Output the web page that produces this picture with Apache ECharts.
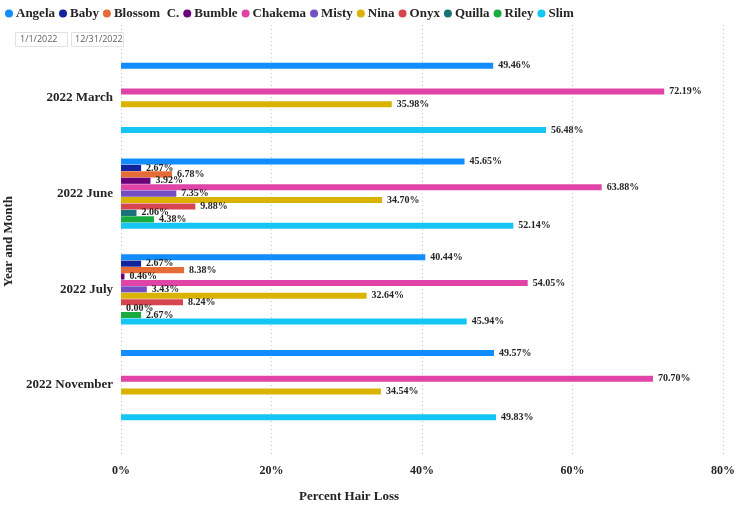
<!DOCTYPE html>
<html><head><meta charset="utf-8">
<script src="https://cdn.jsdelivr.net/npm/echarts@6/dist/echarts.min.js"></script>
<style>html,body{margin:0;padding:0;background:#fff}#c{width:740px;height:505px}</style>
</head><body><div id="c"></div>
<script>
var categories = ['2022 March', '2022 June', '2022 July', '2022 November'];
var seriesNames = ['Angela', 'Baby', 'Blossom  C.', 'Bumble', 'Chakema', 'Misty', 'Nina', 'Onyx', 'Quilla', 'Riley', 'Slim'];
var colors = ['#118DFF', '#12239E', '#E66C37', '#6B007B', '#E044A7', '#744EC2', '#D9B300', '#D64550', '#197278', '#1AAB40', '#15C6F4'];
var angela  = [49.46, 45.65, 40.44, 49.57];
var baby    = [null, 2.67, 2.67, null];
var blossom = [null, 6.78, 8.38, null];
var bumble  = [null, 3.92, 0.46, null];
var chakema = [72.19, 63.88, 54.05, 70.70];
var misty   = [null, 7.35, 3.43, null];
var nina    = [35.98, 34.70, 32.64, 34.54];
var onyx    = [null, 9.88, 8.24, null];
var quilla  = [null, 2.06, 0.00, null];
var riley   = [null, 4.38, 2.67, null];
var slim    = [56.48, 52.14, 45.94, 49.83];
var xTicks  = [0, 20, 40, 60, 80];
var dateFrom = '1/1/2022', dateTo = '12/31/2022';

var allData = [angela, baby, blossom, bumble, chakema, misty, nina, onyx, quilla, riley, slim];
var serif = "Georgia, 'Liberation Serif', serif";
var chart = echarts.init(document.getElementById('c'));
var series = allData.map(function (d, i) {
  return {
    name: seriesNames[i], type: 'bar', data: d,
    xAxisIndex: 0, yAxisIndex: 0,
    barCategoryGap: '26.5%', barGap: '5%',
    itemStyle: { color: colors[i] },
    label: {
      show: true, position: 'right', distance: 5,
      fontFamily: serif, fontWeight: 'bold', fontSize: 10, color: '#252423',
      formatter: function (p) { return p.value == null ? '' : p.value.toFixed(2) + '%'; }
    }
  };
});
chart.setOption({
  animation: false,
  color: colors,
  legend: {
    left: 0, top: 2, icon: 'circle', itemWidth: 8, itemHeight: 8, itemGap: 4,
    textStyle: { fontFamily: serif, fontWeight: 'bold', fontSize: 13, color: '#252423', padding: [0, 0, 0, -2] },
    data: seriesNames
  },
  grid: [
    { left: 121, right: 17, top: 50, bottom: 72, outerBoundsMode: 'none', containLabel: false },
    { left: 121, right: 17, top: 25, bottom: 50, outerBoundsMode: 'none', containLabel: false }
  ],
  xAxis: [
    {
      gridIndex: 0, type: 'value', min: xTicks[0], max: xTicks[xTicks.length - 1], interval: 20,
      axisLine: { show: false }, axisTick: { show: false }, splitLine: { show: false },
      axisLabel: { margin: 32, formatter: '{value}%', fontFamily: serif, fontWeight: 'bold', fontSize: 12, color: '#252423' },
      name: 'Percent Hair Loss', nameLocation: 'middle', nameGap: 57,
      nameTextStyle: { fontFamily: serif, fontWeight: 'bold', fontSize: 13, color: '#252423', padding: [0, 146, 0, 0] }
    },
    {
      gridIndex: 1, type: 'value', min: xTicks[0], max: xTicks[xTicks.length - 1], interval: 20,
      axisLine: { show: false }, axisTick: { show: false }, axisLabel: { show: false },
      splitLine: { show: true, lineStyle: { type: [1, 3], color: '#C8C8C8', width: 1 } }
    }
  ],
  yAxis: [
    {
      gridIndex: 0, type: 'category', data: categories, inverse: true,
      axisLine: { show: false }, axisTick: { show: false },
      axisLabel: { margin: 8, fontFamily: serif, fontWeight: 'bold', fontSize: 13, color: '#252423' },
      name: 'Year and Month', nameLocation: 'middle', nameGap: 102, nameRotate: 90,
      nameTextStyle: { fontFamily: serif, fontWeight: 'bold', fontSize: 13, color: '#252423' }
    },
    { gridIndex: 1, type: 'value', show: false }
  ],
  graphic: [
    { type: 'rect', shape: { x: 15.5, y: 32.5, width: 52, height: 14 }, style: { fill: '#fff', stroke: '#E1E1E1', lineWidth: 1 }, z: 100 },
    { type: 'text', x: 20, y: 39.5, style: { text: dateFrom, font: "9px 'Open Sans', sans-serif", fill: '#605E5C', verticalAlign: 'middle' }, z: 101 },
    { type: 'rect', shape: { x: 71.5, y: 32.5, width: 52, height: 14 }, style: { fill: '#fff', stroke: '#E1E1E1', lineWidth: 1 }, z: 100 },
    { type: 'text', x: 75, y: 39.5, style: { text: dateTo, font: "9px 'Open Sans', sans-serif", fill: '#605E5C', verticalAlign: 'middle' }, z: 101 }
  ],
  series: series
});
</script></body></html>
